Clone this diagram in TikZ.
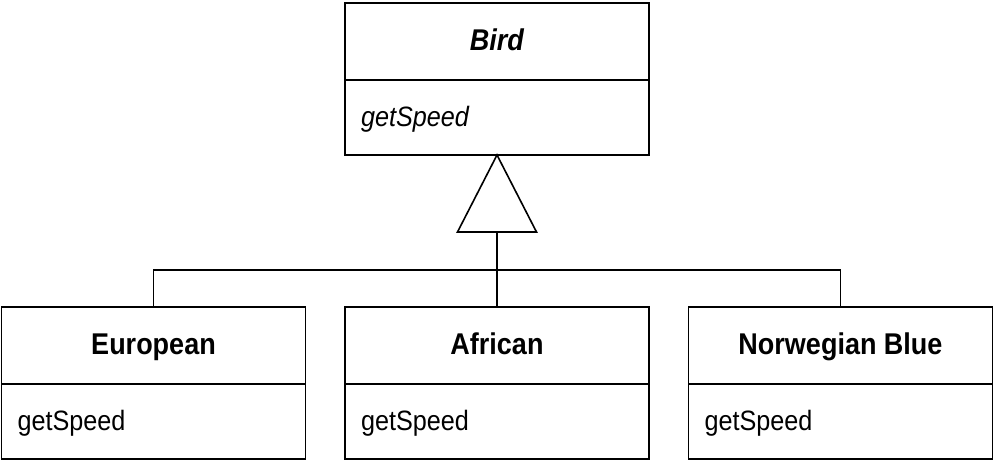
\documentclass[tikz,border=0pt]{standalone}
\usepackage{fontspec}
\setmainfont{Liberation Sans}[FakeStretch=0.9]
\usetikzlibrary{positioning,calc}

\begin{document}
\begin{tikzpicture}[
          x=1pt, y=1pt,
          classname/.style={rectangle, draw, line width=1.6pt, outer sep=0pt, inner sep=0pt, minimum width=304pt, minimum height=77pt, text height=22pt, text depth=4pt, font=\fontsize{30}{36}\selectfont\bfseries},
          classops/.style={rectangle, draw, line width=1.6pt, outer sep=0pt, inner xsep=16pt, inner ysep=0pt, text width=272pt, minimum height=75pt, text height=20pt, text depth=2pt, align=left, font=\fontsize{28}{34}\selectfont},
          link/.style={line width=1.6pt}
        ]
          \useasboundingbox (0,0) rectangle (996,460);

          % Superclass
          \node[classname] (bird) at (497,418.5) {\textit{Bird}};
          \node[classops, below=0pt of bird] (birdops) {\textit{getSpeed}};

          % Subclasses
          \node[classname] (african) at (497,114.5) {African};
          \node[classname, left=39.5pt of african] (european) {European};
          \node[classname, right=39.5pt of african] (norwegian) {Norwegian Blue};
          \node[classops, below=0pt of european] (europeanops) {getSpeed};
          \node[classops, below=0pt of african] (africanops) {getSpeed};
          \node[classops, below=0pt of norwegian] (norwegianops) {getSpeed};

          % Inheritance (hollow triangle)
          \coordinate[below=77pt of birdops.south] (base);
          \coordinate (bus) at (497,190);
          \draw[link, line join=miter] (birdops.south) -- ($(base)+(39.5,0)$) -- ($(base)+(-39.5,0)$) -- cycle;
          \draw[link] (base) -- (bus);
          \draw[link] (european.north) |- (bus) -| (norwegian.north);
          \draw[link] (african.north) -- (bus);

        \end{tikzpicture}
\end{document}
